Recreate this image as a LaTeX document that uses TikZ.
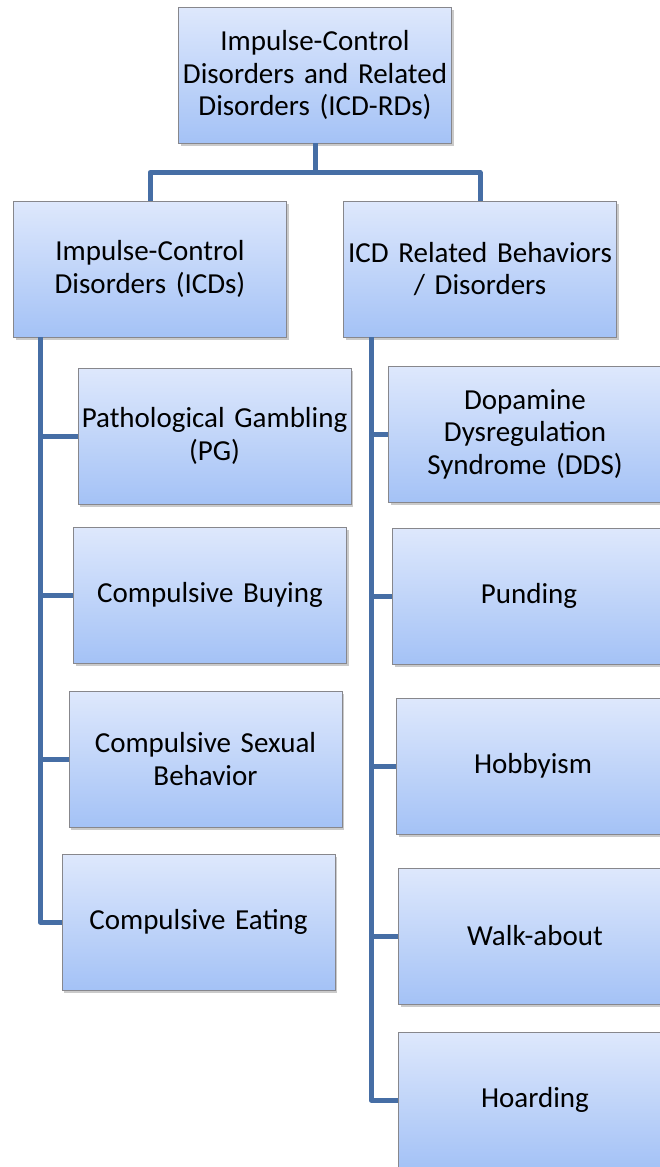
\documentclass[tikz,border=0pt]{standalone}
\usepackage{fontspec}
\setmainfont{Carlito}
\usetikzlibrary{positioning, shadows}

\definecolor{boxtop}{RGB}{222,232,252}
\definecolor{boxbottom}{RGB}{164,194,246}
\definecolor{boxedge}{RGB}{135,135,140}
\definecolor{linkblue}{RGB}{70,110,165}

\begin{document}
\begin{tikzpicture}[
        x=1pt, y=-1pt,
        box/.style={rectangle, draw=boxedge, line width=0.8pt, top color=boxtop, bottom color=boxbottom,
          minimum width=273pt, minimum height=136pt, text width=271pt, align=center, inner xsep=1pt,
          font=\fontsize{29}{32.5}\selectfont,
          drop shadow={shadow xshift=2pt, shadow yshift=-3pt, opacity=0.35, fill=black!60}},
        link/.style={draw=linkblue, line width=5pt, line join=round}
      ]
        \useasboundingbox (0,0) rectangle (660,1167);
        \clip (0,0) rectangle (660,1167);

        % Root
        \node[box] (root) at (315,75) {Impulse-Control\\Disorders and Related\\Disorders (ICD-RDs)};

        % Groups
        \node[box] (icds) at (150,269) {Impulse-Control\\Disorders (ICDs)};
        \node[box] (related) at (480,269) {ICD Related Behaviors\\/ Disorders};

        % ICDs
        \node[box] (gambling) at (214.5,436) {Pathological Gambling\\(PG)};
        \node[box] (buying) at (210,595) {Compulsive Buying};
        \node[box] (sexual) at (205.5,759) {Compulsive Sexual\\Behavior};
        \node[box] (eating) at (198.5,922) {Compulsive Eating};

        % Related behaviors
        \node[box] (dds) at (525,434) {Dopamine\\Dysregulation\\Syndrome (DDS)};
        \node[box] (punding) at (529,596) {Punding};
        \node[box] (hobbyism) at (533,766) {Hobbyism};
        \node[box] (walkabout) at (535,936) {Walk-about};
        \node[box] (hoarding) at (535,1100) {Hoarding};

        % Links
        \coordinate (hub) at ([yshift=-29pt]root.south);
        \draw[link] (root.south) -- (hub);
        \draw[link] (hub) -| (icds.north);
        \draw[link] (hub) -| (related.north);
        \foreach \child in {gambling, buying, sexual, eating}
          \draw[link] ([xshift=27pt]icds.south west) |- (\child.west);
        \foreach \child in {dds, punding, hobbyism, walkabout, hoarding}
          \draw[link] ([xshift=28pt]related.south west) |- (\child.west);
      \end{tikzpicture}
\end{document}
